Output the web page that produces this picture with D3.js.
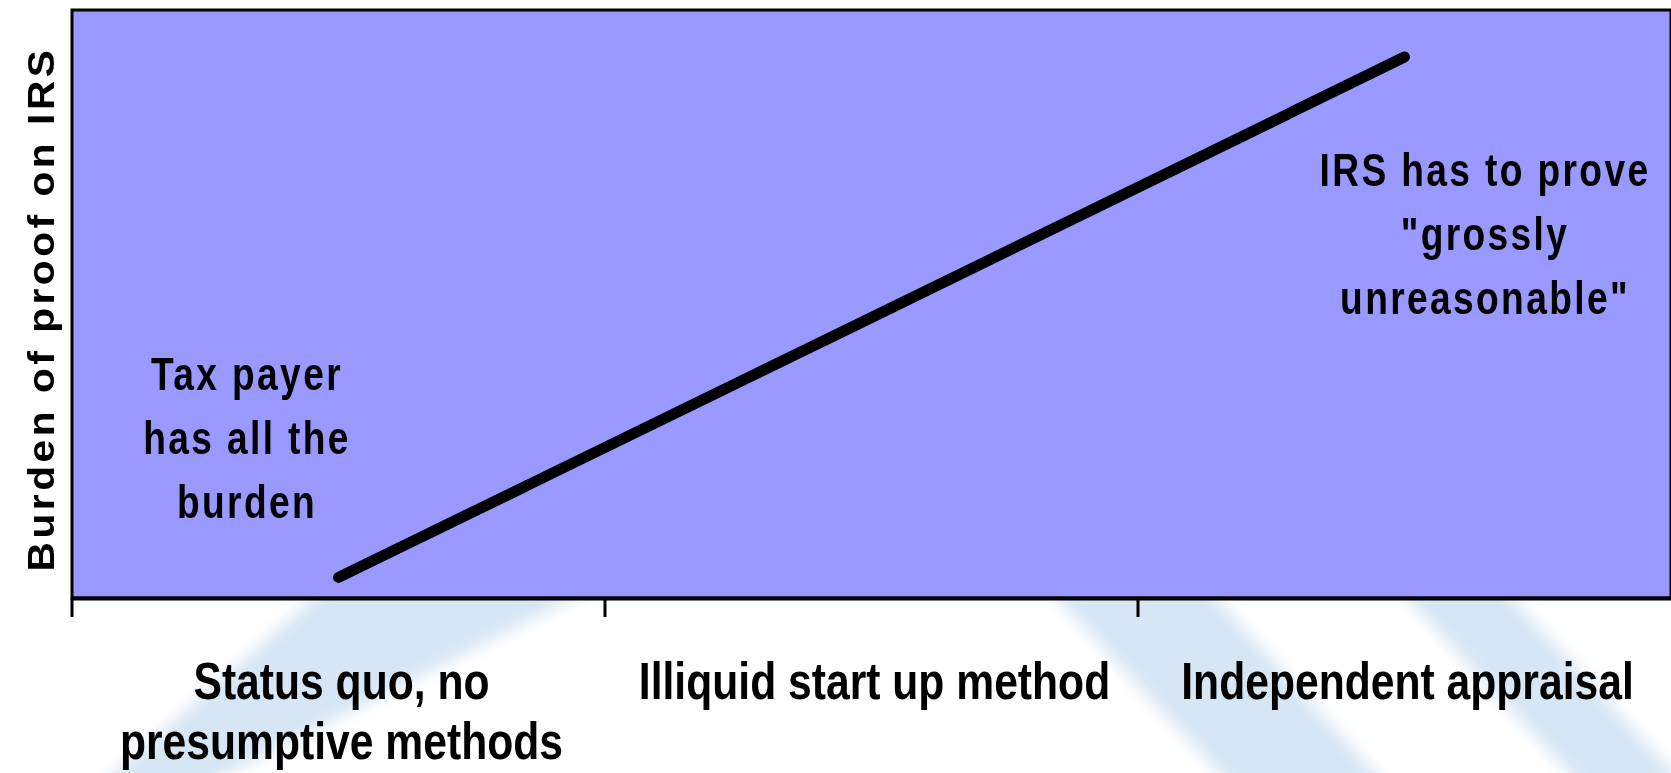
<!DOCTYPE html>
<html>
<head>
<meta charset="utf-8">
<script src="https://cdn.jsdelivr.net/npm/d3@7"></script>
<style>
  html, body { margin: 0; padding: 0; background: #fff; overflow: hidden; }
  svg { display: block; font-family: "Liberation Sans", Arial, sans-serif; font-weight: bold; }
</style>
</head>
<body>
<svg width="1671" height="773"></svg>
<script>
const width = 1671, height = 773;
const marginTop = 10;
const marginRight = 0;
const marginBottom = 175;
const marginLeft = 72;
const svg = d3.select("svg");

// chart data
const categories = ["Status quo, no presumptive methods", "Illiquid start up method", "Independent appraisal"];
const categoryLines = [["Status quo, no", "presumptive methods"], ["Illiquid start up method"], ["Independent appraisal"]];
const burden = [3.5, 47.7, 92];
const yTitle = "Burden of proof on IRS";
const leftNote = ["Tax payer", "has all the", "burden"];
const rightNote = ["IRS has to prove", "\"grossly", "unreasonable\""];

// the source picture is squeezed sideways, text follows that
const squeeze = 0.82;

// soft background swooshes (slide template)
const defs = svg.append("defs");
defs.append("filter")
    .attr("id", "soft")
    .attr("x", "-20%").attr("y", "-20%")
    .attr("width", "140%").attr("height", "140%")
    .append("feGaussianBlur")
    .attr("stdDeviation", 8);

const swooshes = [
    [[335, 580], [610, 580], [195, 790], [95, 790]],
    [[1040, 580], [1200, 580], [1390, 790], [1235, 790]],
    [[1390, 580], [1495, 580], [1690, 790], [1585, 790]]
];
svg.append("g")
    .attr("filter", "url(#soft)")
    .selectAll("path")
    .data(swooshes)
    .join("path")
    .attr("d", d => "M" + d.join("L") + "Z")
    .attr("fill", "#c4dcef")
    .attr("opacity", 0.7);

// scales
const xScale = d3.scaleBand()
    .domain(categories)
    .range([marginLeft, marginLeft + 3 * 533]);

const yScale = d3.scaleLinear()
    .domain([0, 100])
    .range([height - marginBottom, marginTop]);

// plot area
svg.append("rect")
    .attr("x", xScale.range()[0])
    .attr("y", yScale(100))
    .attr("width", xScale.range()[1] - xScale.range()[0])
    .attr("height", yScale(0) - yScale(100))
    .attr("fill", "#9999ff")
    .attr("stroke", "#000")
    .attr("stroke-width", 3);

// x axis: ticks between categories
const xAxis = d3.axisBottom(xScale)
    .tickSize(0)
    .tickFormat("");
svg.append("g")
    .attr("transform", `translate(0, ${yScale(0)})`)
    .call(xAxis)
    .call(g => g.select(".domain").attr("stroke", "#000").attr("stroke-width", 4));

svg.append("g")
    .selectAll("line")
    .data(categories)
    .join("line")
    .attr("x1", d => xScale(d))
    .attr("x2", d => xScale(d))
    .attr("y1", yScale(0))
    .attr("y2", yScale(0) + 19)
    .attr("stroke", "#000")
    .attr("stroke-width", 3);

// category labels
const catLabels = svg.append("g")
    .selectAll("g")
    .data(categories)
    .join("g")
    .attr("transform", d => `translate(${xScale(d) + xScale.bandwidth() / 2 + 3}, 699) scale(${squeeze}, 1)`);

catLabels.append("text")
    .attr("text-anchor", "middle")
    .style("font-size", "52px")
    .selectAll("tspan")
    .data((d, i) => categoryLines[i])
    .join("tspan")
    .attr("x", 0)
    .attr("y", (d, i) => i * 60)
    .text(d => d);

// y axis title
svg.append("text")
    .attr("transform", "translate(54, 309) rotate(-90) scale(1.1, 1)")
    .attr("text-anchor", "middle")
    .style("font-size", "37px")
    .style("letter-spacing", "3.2px")
    .text(yTitle);

// burden line
const lineGen = d3.line()
    .x((d, i) => xScale(categories[i]) + xScale.bandwidth() / 2)
    .y(d => yScale(d));

svg.append("path")
    .datum(burden)
    .attr("fill", "none")
    .attr("stroke", "#000")
    .attr("stroke-width", 11)
    .attr("stroke-linecap", "round")
    .attr("d", lineGen);

// notes in the plot
function addNote(lines, cx, y0) {
    svg.append("g")
        .attr("transform", `translate(${cx}, ${y0}) scale(0.79, 1)`)
        .append("text")
        .attr("text-anchor", "middle")
        .style("font-size", "47px")
        .style("letter-spacing", "3px")
        .selectAll("tspan")
        .data(lines)
        .join("tspan")
        .attr("x", 0)
        .attr("y", (d, i) => i * 64)
        .text(d => d);
}

addNote(leftNote, 247, 390);
addNote(rightNote, 1485, 186);
</script>
</body>
</html>
